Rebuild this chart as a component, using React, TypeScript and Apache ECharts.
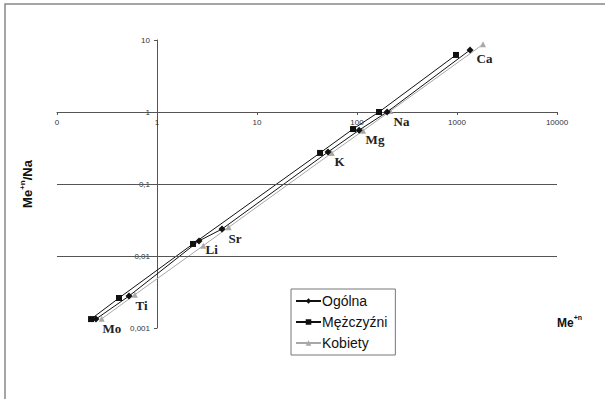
import React, { useEffect, useRef } from 'react';
import * as echarts from 'echarts';

// Element labels (shown next to the "Ogólna" points)
const elements = ['Mo', 'Ti', 'Li', 'Sr', 'K', 'Mg', 'Na', 'Ca'];

// Ogólna (diamonds)
const ogolnaX = [0.245, 0.525, 2.63, 4.47, 51.3, 105, 200, 1350];
const ogolnaY = [0.00133, 0.00278, 0.0162, 0.0237, 0.278, 0.56, 1.0, 7.27];

// Mężczyźni (squares)
const mezczyzniX = [0.219, 0.417, 2.29, 42.7, 91.2, 166, 977];
const mezczyzniY = [0.00133, 0.00261, 0.0147, 0.27, 0.58, 1.0, 6.2];

// Kobiety (triangles)
const kobietyX = [0.28, 0.6, 2.9, 5.2, 56, 115, 215, 1820];
const kobietyY = [0.00134, 0.0029, 0.0139, 0.025, 0.27, 0.55, 1.03, 8.7];

// Axis ranges and reference lines
const xRange = [0.1, 10000];
const yRange = [0.001, 10];
const xCross = 1; // y axis crosses x axis at x = 1
const yCross = 1; // x axis crosses y axis at y = 1
const gridLinesY = [0.1, 0.01];

const W = 605;
const H = 399;
const GRID = { left: 57, right: 48, top: 40, bottom: 71 };

const pairs = (xs: number[], ys: number[]) => xs.map((x, i) => [x, ys[i]]);

export default function App() {
  const ref = useRef<HTMLDivElement>(null);

  useEffect(() => {
    if (!ref.current) return;
    const chart = echarts.init(ref.current, null, { renderer: 'svg' });

    const plotW = W - GRID.left - GRID.right;
    const plotH = H - GRID.top - GRID.bottom;
    const lx = (v: number) => Math.log10(v);
    const xOffset = -plotW * (lx(xCross) - lx(xRange[0])) / (lx(xRange[1]) - lx(xRange[0]));
    const yOffset = -plotH * (lx(yCross) - lx(yRange[0])) / (lx(yRange[1]) - lx(yRange[0]));

    const axisColor = '#555';
    const labelFont = { fontFamily: 'Liberation Sans', fontSize: 8, color: '#333' };

    chart.setOption({
      animation: false,
      backgroundColor: '#fff',
      grid: { ...GRID, containLabel: false },
      xAxis: {
        type: 'log',
        logBase: 10,
        min: xRange[0],
        max: xRange[1],
        position: 'bottom',
        offset: yOffset,
        axisLine: { show: true, onZero: false, lineStyle: { color: axisColor, width: 1 } },
        axisTick: { show: true, length: 3, lineStyle: { color: axisColor } },
        axisLabel: {
          ...labelFont,
          margin: 6,
          formatter: (v: number) => (v < 1 ? '0' : String(Math.round(v))),
        },
        splitLine: { show: false },
        minorTick: { show: false },
      },
      yAxis: {
        type: 'log',
        logBase: 10,
        min: yRange[0],
        max: yRange[1],
        position: 'left',
        offset: xOffset,
        axisLine: { show: true, onZero: false, lineStyle: { color: axisColor, width: 1 } },
        axisTick: { show: true, length: 3, lineStyle: { color: axisColor } },
        axisLabel: {
          ...labelFont,
          margin: 7,
          formatter: (v: number) =>
            v >= 1 ? String(Math.round(v)) : v.toFixed(-Math.round(Math.log10(v))).replace('.', ','),
        },
        splitLine: { show: false },
        name: '{b|Me}{s|+n}{b|/Na}',
        nameLocation: 'middle',
        nameRotate: 90,
        nameGap: 123,
        nameTextStyle: {
          rich: {
            b: { fontFamily: 'Liberation Sans', fontWeight: 'bold', fontSize: 13, color: '#111', lineHeight: 16, verticalAlign: 'bottom' },
            s: { fontFamily: 'Liberation Sans', fontWeight: 'bold', fontSize: 8, color: '#111', lineHeight: 16, verticalAlign: 'top' },
          },
        },
      },
      legend: {
        orient: 'vertical',
        left: 291,
        top: 289,
        padding: [5, 8, 5, 4],
        itemWidth: 25,
        itemHeight: 7,
        itemGap: 7,
        borderColor: '#777',
        borderWidth: 1,
        backgroundColor: '#fff',
        textStyle: { fontFamily: 'Liberation Sans', fontSize: 14, color: '#111', padding: [0, 0, 0, -4] },
        data: ['Ogólna', 'Mężczyźni', 'Kobiety'],
      },
      graphic: [
        {
          type: 'rect',
          shape: { x: 5, y: 4, width: 700, height: 500 },
          style: { fill: 'none', stroke: '#888', lineWidth: 1.5 },
          silent: true,
        },
        {
          type: 'text',
          left: 557,
          top: 314,
          style: {
            text: '{b|Me}{s|+n}',
            rich: {
              b: { fontFamily: 'Liberation Sans', fontWeight: 'bold', fontSize: 12, fill: '#111', lineHeight: 15, verticalAlign: 'bottom' },
              s: { fontFamily: 'Liberation Sans', fontWeight: 'bold', fontSize: 7, fill: '#111', lineHeight: 15, verticalAlign: 'top' },
            },
          },
        },
      ],
      series: [
        {
          name: 'Kobiety',
          type: 'line',
          data: pairs(kobietyX, kobietyY),
          symbol: 'triangle',
          symbolSize: 6,
          color: '#a8a8a8',
          lineStyle: { color: '#a8a8a8', width: 1 },
          itemStyle: { color: '#a8a8a8' },
          z: 2,
        },
        {
          name: 'Mężczyźni',
          type: 'line',
          data: pairs(mezczyzniX, mezczyzniY),
          symbol: 'rect',
          symbolSize: 6,
          color: '#111',
          lineStyle: { color: '#111', width: 1 },
          itemStyle: { color: '#111' },
          z: 3,
        },
        {
          name: 'Ogólna',
          type: 'line',
          data: pairs(ogolnaX, ogolnaY),
          symbol: 'diamond',
          symbolSize: 7,
          color: '#111',
          lineStyle: { color: '#111', width: 1 },
          itemStyle: { color: '#111' },
          z: 4,
          label: {
            show: true,
            position: 'right',
            distance: 3,
            offset: [0, 9],
            formatter: (p: any) => elements[p.dataIndex],
            fontFamily: 'Liberation Serif',
            fontWeight: 'bold',
            fontSize: 13,
            color: '#222',
          },
          markLine: {
            silent: true,
            symbol: 'none',
            label: { show: false },
            lineStyle: { color: '#555', width: 1, type: 'solid' },
            data: gridLinesY.map((v) => ({ yAxis: v })),
          },
        },
      ],
    });

    return () => chart.dispose();
  }, []);

  return (
    <div
      ref={ref}
      style={{ position: 'fixed', left: 0, top: 0, width: W, height: H, background: '#fff' }}
    />
  );
}
